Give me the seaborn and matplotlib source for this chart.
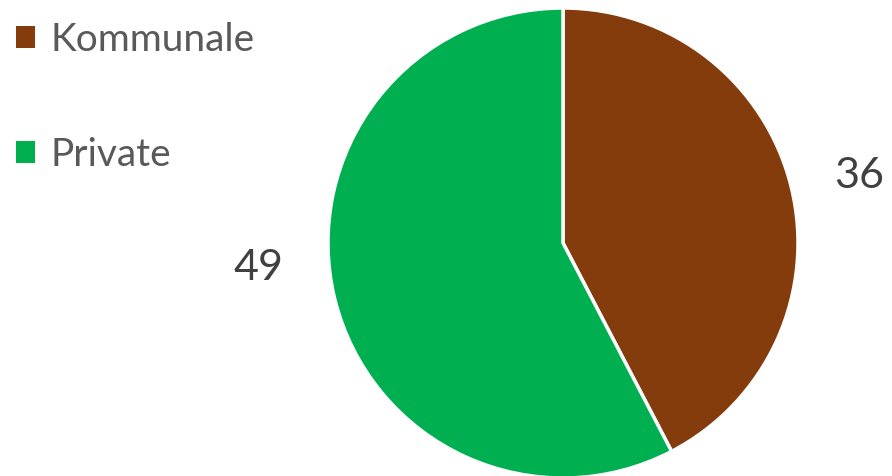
import numpy as np
import seaborn as sns
import matplotlib.pyplot as plt

#@ Data
categories = ["Kommunale", "Private"]
values = [36, 49]
colors = ["#843C0C", "#00B050"]

sns.set_theme(style="white")
plt.rcParams['font.family'] = ['Lato', 'DejaVu Sans']

W, H = 892, 476
fig = plt.figure(figsize=(W / 100, H / 100), dpi=100)
ax = fig.add_axes([0, 0, 1, 1])
ax.set_xlim(0, W)
ax.set_ylim(0, H)
ax.set_aspect('equal')
ax.axis('off')

#@ Pie in pixel coordinates
cx, cy, r = 563, H - 243, 235
wedges, _ = ax.pie(values, colors=colors, startangle=90, counterclock=False,
                   center=(cx, cy), radius=r,
                   wedgeprops=dict(edgecolor='white', linewidth=2.5))
ax.set_xlim(0, W)
ax.set_ylim(0, H)

#@ Data labels, placed outside the wedges
offsets = [(1.29, -1), (1.30, -9)]
for w, v, (dist, shift) in zip(wedges, values, offsets):
    ang = np.deg2rad((w.theta1 + w.theta2) / 2 + shift)
    ax.text(cx + dist * r * np.cos(ang), cy + dist * r * np.sin(ang), str(v),
            ha='center', va='center', fontsize=31, color='#404040')

#@ Legend
leg = ax.legend(wedges, categories, loc='upper left', bbox_to_anchor=(0.0, 1 - 6 / H),
                frameon=False, fontsize=28, labelcolor='#595959',
                handlelength=0.5, handleheight=0.5, handletextpad=0.4,
                labelspacing=2.03, borderpad=0, borderaxespad=0.4)
for h in leg.legend_handles:
    h.set_edgecolor('none')

plt.savefig("out.png", dpi=100)
plt.close()
